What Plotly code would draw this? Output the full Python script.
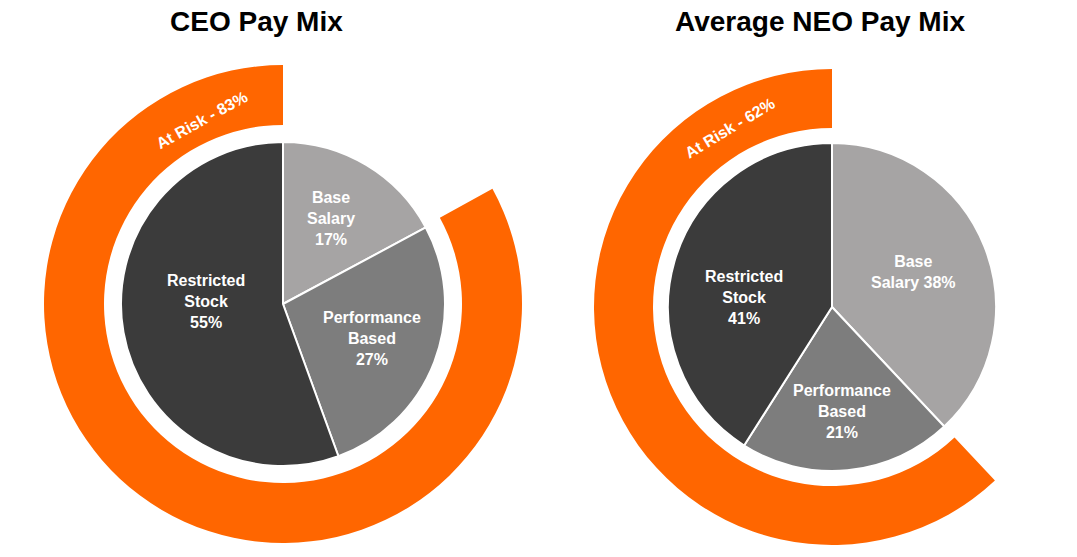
import plotly.graph_objects as go

W, H = 1077, 557

# ---- data ----
ceo_labels = ["Base<br>Salary<br>17%", "Performance<br>Based<br>27%", "Restricted<br>Stock<br>55%"]
ceo_values = [17, 27, 55]
ceo_at_risk = 83
neo_labels = ["Base<br>Salary 38%", "Performance<br>Based<br>21%", "Restricted<br>Stock<br>41%"]
neo_values = [38, 21, 41]
neo_at_risk = 62
titles = ["CEO Pay Mix", "Average NEO Pay Mix"]

slice_colors = ["#A6A4A4", "#7D7D7D", "#3B3B3B"]
orange = "#FF6600"
FONT = "Liberation Sans, Arial, sans-serif"


def dom(cx, cy, r):
    return dict(x=[(cx - r) / W, (cx + r) / W], y=[1 - (cy + r) / H, 1 - (cy - r) / H])


fig = go.Figure()

charts = [
    dict(center=(283, 304), r_pie=162, r_out=239, r_in=179,
         labels=ceo_labels, values=ceo_values, risk=ceo_at_risk,
         label_pos=[(331, 219), (372, 339), (206, 301)],
         title=titles[0], title_x=256, risk_pos=(201, 120), risk_angle=-29),
    dict(center=(832, 307), r_pie=164, r_out=238, r_in=179,
         labels=neo_labels, values=neo_values, risk=neo_at_risk,
         label_pos=[(913, 272), (842, 411), (744, 297)],
         title=titles[1], title_x=820, risk_pos=(729, 128), risk_angle=-31),
]

annotations = []
for c in charts:
    cx, cy = c["center"]
    # outer "At Risk" ring
    fig.add_trace(go.Pie(
        values=[100 - c["risk"], c["risk"]],
        marker=dict(colors=["rgba(0,0,0,0)", orange], line=dict(width=0)),
        hole=c["r_in"] / c["r_out"], sort=False, direction="clockwise",
        rotation=0, textinfo="none", hoverinfo="skip",
        domain=dom(cx, cy, c["r_out"]), showlegend=False,
    ))
    # inner pie
    fig.add_trace(go.Pie(
        values=c["values"], textinfo="none",
        marker=dict(colors=slice_colors, line=dict(color="white", width=2)),
        sort=False, direction="clockwise", rotation=0, hoverinfo="skip",
        domain=dom(cx, cy, c["r_pie"]), showlegend=False,
    ))
    for lab, (lx, ly) in zip(c["labels"], c["label_pos"]):
        annotations.append(dict(
            text="<b>%s</b>" % lab, x=lx / W, y=1 - ly / H,
            xref="paper", yref="paper", showarrow=False, xanchor="center", yanchor="middle",
            font=dict(family=FONT, size=16, color="white"),
        ))
    annotations.append(dict(
        text="<b>%s</b>" % c["title"], x=c["title_x"] / W, y=1 - 22 / H,
        xref="paper", yref="paper", showarrow=False, xanchor="center", yanchor="middle",
        font=dict(family=FONT, size=28, color="black"),
    ))
    rx, ry = c["risk_pos"]
    annotations.append(dict(
        text="<b>At Risk - %d%%</b>" % c["risk"], x=rx / W, y=1 - ry / H,
        xref="paper", yref="paper", showarrow=False, xanchor="center", yanchor="middle",
        textangle=c["risk_angle"],
        font=dict(family=FONT, size=16, color="white"),
    ))

fig.update_layout(
    width=W, height=H, margin=dict(l=0, r=0, t=0, b=0),
    paper_bgcolor="white", plot_bgcolor="white",
    annotations=annotations,
)

fig.write_html("out.html")
